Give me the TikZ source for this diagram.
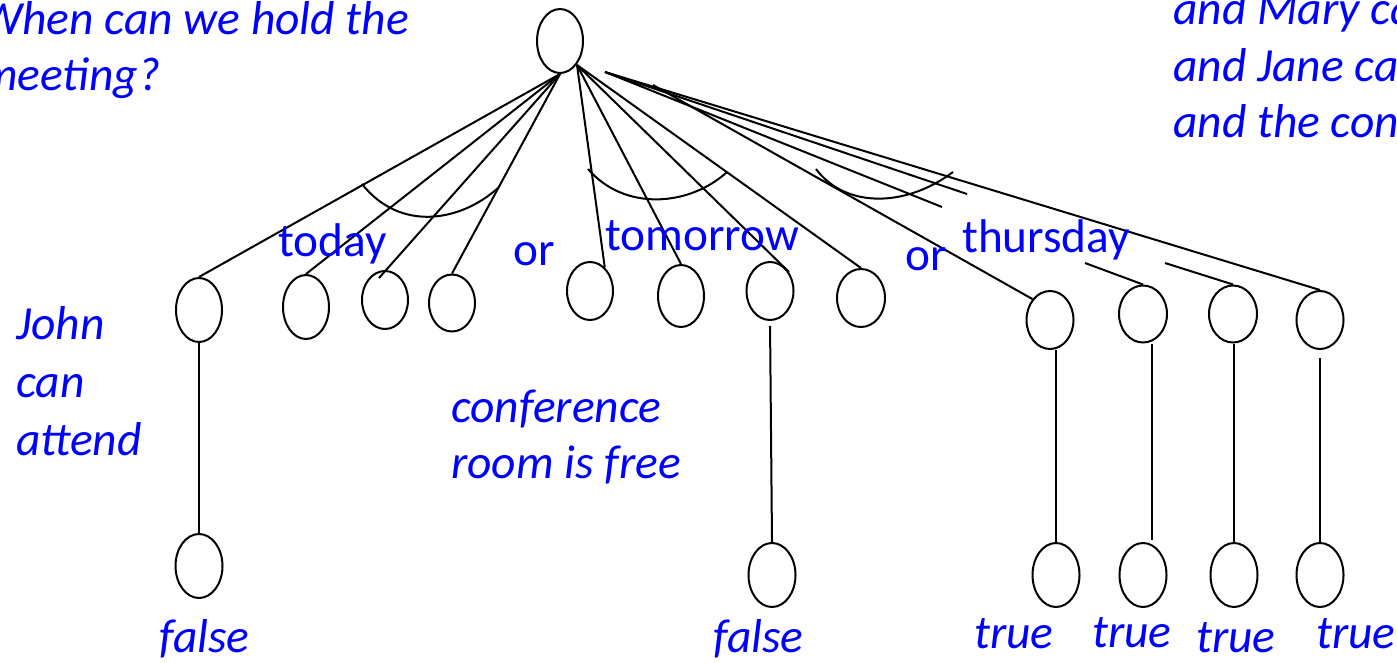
\documentclass[tikz,border=0pt]{standalone}
\usepackage{fontspec}
\setmainfont{Carlito}
\usetikzlibrary{shapes.geometric}
\tikzset{
  itl/.style={text=blue, font=\fontsize{47.5}{57}\selectfont\itshape, inner sep=0pt, anchor=base west},
  upl/.style={text=blue, font=\fontsize{47.3}{56}\selectfont, inner sep=0pt, anchor=base west},
  nd/.style={ellipse, draw=black, line width=2pt, inner sep=0pt, minimum width=46pt, minimum height=#1},
  nd/.default=58pt,
  edge/.style={draw=black, line width=2pt},
}
\begin{document}
\begin{tikzpicture}[x=1pt,y=-1pt]
\useasboundingbox (0,0) rectangle (1397,663);
\clip (0,0) rectangle (1397,663);
\fill[white] (0,0) rectangle (1397,663);

% nodes
\node[nd=64pt] (root) at (560,41) {};
\node[nd=64pt] (A) at (199,310) {};
\node[nd=64pt] (B) at (306,307) {};
\node[nd=58pt] (C) at (385,300) {};
\node[nd=57pt] (D) at (452,303) {};
\node[nd=58pt] (E) at (590,291) {};
\node[nd=62pt] (F) at (681,296) {};
\node[nd=58pt, minimum width=47pt] (G) at (770,291) {};
\node[nd=58pt, minimum width=48pt] (H) at (861,298) {};
\node[nd=58pt, minimum width=47pt] (I) at (1050,320) {};
\node[nd=57pt, minimum width=48pt] (J) at (1143,314) {};
\node[nd=57pt, minimum width=48pt] (K) at (1233,314) {};
\node[nd=58pt, minimum width=47pt] (L) at (1320,320) {};

\node[nd=64pt, minimum width=47pt] (la) at (199,566) {};
\node[nd=64pt, minimum width=47pt] (lg) at (772,575) {};
\node[nd=64pt, minimum width=47pt] (li) at (1056,575) {};
\node[nd=64pt, minimum width=47pt] (lj) at (1143,575) {};
\node[nd=64pt, minimum width=47pt] (lk) at (1234,575) {};
\node[nd=64pt, minimum width=47pt] (ll) at (1320,575) {};

% connector start points
\coordinate (rl) at (560,74);
\coordinate (rr) at (577,65);
\coordinate (rb) at (605,72);
\coordinate (ri) at (653,85);
\coordinate (cin) at (379,278);
\coordinate (jup) at (942,207);
\coordinate (jlo) at (1085,263);
\coordinate (kup) at (967,194);
\coordinate (klo) at (1165,263);

% edges from root
\draw[edge] (rl) -- (A.north);
\draw[edge] (rl) -- (B.north);
\draw[edge] (rl) -- (cin);
\draw[edge] (rl) -- (D.north);
\draw[edge] (rr) -- (E.58);
\draw[edge] (rr) -- (F.north);
\draw[edge] (rr) -- (G.45);
\draw[edge] (rr) -- (H.north);
\draw[edge] (ri) -- (I.130);
\draw[edge] (rb) -- (jup);
\draw[edge] (jlo) -- (J.north);
\draw[edge] (rb) -- (kup);
\draw[edge] (klo) -- (K.north);
\draw[edge] (rb) -- (L.north);

% AND arcs
\draw[edge] (362,184) .. controls (400,232) and (460,222) .. (498,188);
\draw[edge] (588,169) .. controls (625,212) and (690,206) .. (727,172);
\draw[edge] (816,169) .. controls (845,208) and (905,208) .. (953,172);

% vertical edges to leaves
\draw[edge] (A.south) -- (la.north);
\draw[edge, shorten <=5pt] (G.south) -- (lg.north);
\draw[edge] (li.north |- I.south) -- (li.north);
\draw[edge] ([xshift=9pt]J.south) -- ([xshift=9pt,yshift=2pt]lj.north);
\draw[edge] (lk.north |- K.south) -- (lk.north);
\draw[edge, shorten <=8pt] (L.south) -- (ll.north);

% texts
\node[itl] (q1) at (-20,35) {When can we hold the};
\node[itl] (q2) at (-20,91) {meeting?};
\node[itl] (r1) at (1173,25) {and Mary can};
\node[itl] (r2) at (1173,82) {and Jane can};
\node[itl] (r3) at (1173,138) {and the conference};
\node[itl] (j1) at (16,339) {John};
\node[itl] (j2) at (16,397) {can};
\node[itl] (j3) at (16,455) {attend};
\node[itl] (c1) at (451,422) {conference};
\node[itl] (c2) at (451,478) {room is free};
\node[itl] (f1) at (159,652) {false};
\node[itl] (f2) at (713,652) {false};
\node[itl] (t1) at (974,648) {true};
\node[itl] (t2) at (1092,647) {true};
\node[itl] (t3) at (1196,652) {true};
\node[itl] (t4) at (1316,648) {true};

\node[upl] (today) at (278,256) {today};
\node[upl] (or1) at (513,265) {or};
\node[upl] (tomorrow) at (605,250) {tomorrow};
\node[upl] (or2) at (905,270) {or};
\node[upl] (thursday) at (962,252) {thursday};
\end{tikzpicture}
\end{document}
